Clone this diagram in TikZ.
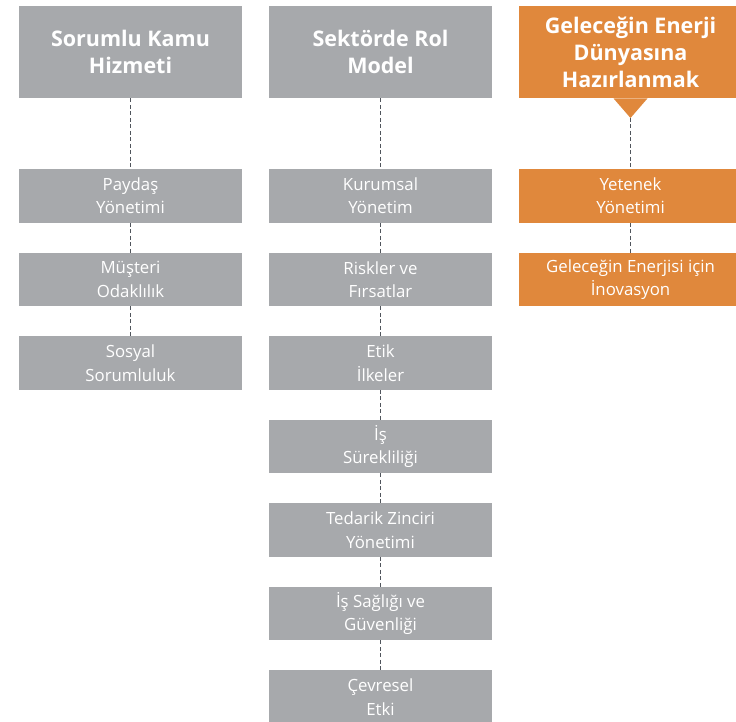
\documentclass[tikz,border=0pt]{standalone}
\usepackage{fontspec}
\setmainfont{Open Sans}
\begin{document}
\begin{tikzpicture}[x=1pt,y=-1pt,
  gbox/.style={fill=boxgray,draw=none,minimum width=223pt,minimum height=53.5pt,inner sep=0pt,text=white,align=center,font=\fontsize{16.8}{23.5}\selectfont,anchor=north},
  obox/.style={gbox,fill=boxorange},
  ghead/.style={fill=boxgray,draw=none,minimum width=223pt,minimum height=92pt,inner sep=0pt,text=white,align=center,font=\bfseries\fontsize{21.5}{27}\selectfont,anchor=north},
  ohead/.style={ghead,fill=boxorange},
  conn/.style={draw=dashcol,line width=1pt,dash pattern=on 4pt off 2.5pt}
]
\definecolor{boxgray}{HTML}{A7A9AC}
\definecolor{boxorange}{HTML}{E0883C}
\definecolor{dashcol}{HTML}{50555C}
\useasboundingbox (0,0) rectangle (736,722);

% column 1
\node[ghead] (h1) at (130.5,6) {Sorumlu Kamu\\Hizmeti};
\node[gbox] (a1) at (130.5,169) {Paydaş\\Yönetimi};
\node[gbox] (a2) at (130.5,252.5) {Müşteri\\Odaklılık};
\node[gbox] (a3) at (130.5,336) {Sosyal\\Sorumluluk};

% column 2
\node[ghead] (h2) at (380.5,6) {Sektörde Rol\\Model};
\node[gbox] (b1) at (380.5,169) {Kurumsal\\Yönetim};
\node[gbox] (b2) at (380.5,252.5) {Riskler ve\\Fırsatlar};
\node[gbox] (b3) at (380.5,336) {Etik\\İlkeler};
\node[gbox] (b4) at (380.5,419.5) {İş\\Sürekliliği};
\node[gbox] (b5) at (380.5,503) {Tedarik Zinciri\\Yönetimi};
\node[gbox] (b6) at (380.5,586.5) {İş Sağlığı ve\\Güvenliği};
\node[gbox] (b7) at (380.5,670) {Çevresel\\Etki};

% column 3
\node[ohead] (h3) at (630.5,6) {Geleceğin Enerji\\Dünyasına\\Hazırlanmak};
\coordinate (tip) at (630.5,118);
\fill[boxorange] ([xshift=-17pt]h3.south) -- (tip) -- ([xshift=17pt]h3.south) -- cycle;
\node[obox] (c1) at (630.5,169) {Yetenek\\Yönetimi};
\node[obox] (c2) at (630.5,252.5) {Geleceğin Enerjisi için\\İnovasyon};

% connectors
\draw[conn] (h1.south) -- (a1.north);
\draw[conn] (a1.south) -- (a2.north);
\draw[conn] (a2.south) -- (a3.north);
\draw[conn] (h2.south) -- (b1.north);
\draw[conn] (b1.south) -- (b2.north);
\draw[conn] (b2.south) -- (b3.north);
\draw[conn] (b3.south) -- (b4.north);
\draw[conn] (b4.south) -- (b5.north);
\draw[conn] (b5.south) -- (b6.north);
\draw[conn] (b6.south) -- (b7.north);
\draw[conn] (tip) -- (c1.north);
\draw[conn] (c1.south) -- (c2.north);
\end{tikzpicture}
\end{document}
